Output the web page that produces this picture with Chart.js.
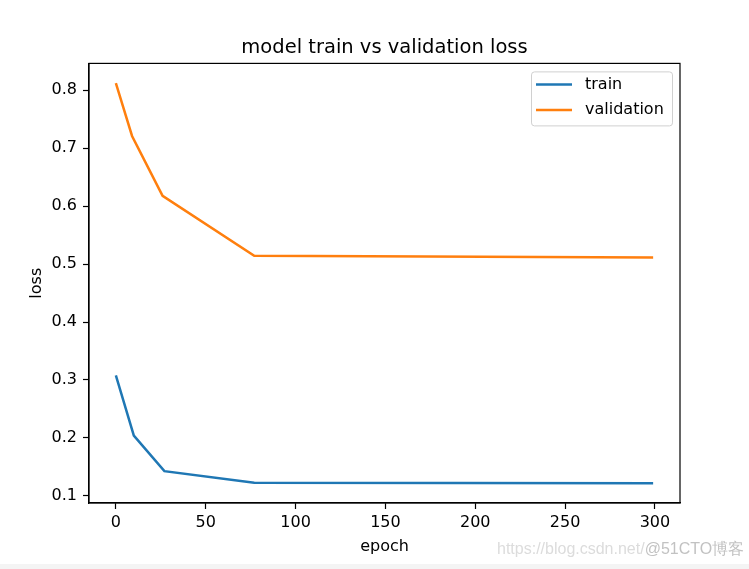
<!DOCTYPE html>
<html>
<head>
<meta charset="utf-8">
<script src="https://cdn.jsdelivr.net/npm/chart.js@4.4.0/dist/chart.umd.min.js"></script>
<style>
    html, body { margin: 0; padding: 0; background: #fff; }
    #wrap { position: relative; width: 749px; height: 569px; }
    #watermark {
        position: absolute; left: 497px; top: 539px;
        font: 16px "Liberation Sans", Arial, sans-serif; color: #dcdcdc; white-space: nowrap;
    }
    #watermark span { color: #c2c2c2; }
    #strip { position: absolute; left: 0; top: 564px; width: 749px; height: 5px; background: #f4f4f4; }
</style>
</head>
<body>
<div id="wrap">
    <canvas id="chart" width="749" height="569"></canvas>
    <div id="watermark">https://blog.csdn.net/<span>@51CTO博客</span></div>
    <div id="strip"></div>
</div>
<script>
// values
const trainEpochs = [0, 10, 27, 77, 299];
const trainLoss = [0.308, 0.204, 0.1425, 0.1225, 0.1218];
const valEpochs = [0, 9, 26, 77, 299];
const valLoss = [0.8125, 0.7212, 0.6178, 0.5143, 0.5115];
const xTicks = [0, 50, 100, 150, 200, 250, 300];
const yTicks = [0.1, 0.2, 0.3, 0.4, 0.5, 0.6, 0.7, 0.8];

const FONT = 'DejaVu Sans';

const toPoints = (xs, ys) => xs.map((x, i) => ({ x: x, y: ys[i] }));

// black frame round the plot area, like matplotlib spines
const framePlugin = {
    id: 'frame',
    afterDatasetsDraw(chart) {
        const { ctx, chartArea: a } = chart;
        ctx.save();
        ctx.strokeStyle = '#000';
        ctx.lineWidth = 1.2;
        ctx.strokeRect(a.left, a.top, a.right - a.left, a.bottom - a.top);
        ctx.restore();
    }
};

// legend box in the upper right corner
const legendBoxPlugin = {
    id: 'legendBox',
    afterDraw(chart) {
        const { ctx, chartArea: a } = chart;
        const sets = chart.data.datasets;
        const boxR = a.right - 8, boxT = a.top + 8;
        const boxW = 141, boxH = 54;
        const boxL = boxR - boxW;
        ctx.save();
        ctx.fillStyle = 'rgba(255,255,255,0.8)';
        ctx.strokeStyle = '#d0d0d0';
        ctx.lineWidth = 1;
        ctx.beginPath();
        ctx.roundRect(boxL + 0.5, boxT + 0.5, boxW, boxH, 3);
        ctx.fill();
        ctx.stroke();
        ctx.font = '16px "' + FONT + '"';
        ctx.textBaseline = 'middle';
        ctx.fillStyle = '#000';
        sets.forEach((ds, i) => {
            const y = boxT + 13 + i * 25.5;
            ctx.strokeStyle = ds.borderColor;
            ctx.lineWidth = 2.5;
            ctx.beginPath();
            ctx.moveTo(boxL + 5, y);
            ctx.lineTo(boxL + 41, y);
            ctx.stroke();
            ctx.fillText(ds.label, boxL + 54, y);
        });
        ctx.restore();
    }
};

new Chart(document.getElementById('chart'), {
    type: 'line',
    data: {
        datasets: [
            {
                label: 'train',
                data: toPoints(trainEpochs, trainLoss),
                borderColor: '#1f77b4',
                borderWidth: 2.5,
                pointRadius: 0,
                tension: 0,
                fill: false
            },
            {
                label: 'validation',
                data: toPoints(valEpochs, valLoss),
                borderColor: '#ff7f0e',
                borderWidth: 2.5,
                pointRadius: 0,
                tension: 0,
                fill: false
            }
        ]
    },
    options: {
        responsive: false,
        animation: false,
        layout: { padding: { left: 0, right: 69, top: 0, bottom: 0 } },
        plugins: {
            legend: { display: false },
            tooltip: { enabled: false },
            title: {
                display: true,
                fullSize: false,
                text: 'model train vs validation loss',
                color: '#000',
                font: { family: FONT, size: 19.5, weight: 'normal' },
                padding: { top: 36, bottom: 4 }
            }
        },
        scales: {
            x: {
                type: 'linear',
                min: -14.95,
                max: 313.95,
                afterBuildTicks: (scale) => { scale.ticks = xTicks.map(v => ({ value: v })); },
                afterFit: (scale) => { scale.height = 66; },
                grid: { drawOnChartArea: false, drawTicks: true, tickLength: 6, tickColor: '#000', tickWidth: 1.2 },
                border: { display: true, color: '#000', width: 1.2 },
                ticks: { color: '#000', padding: 4, maxRotation: 0, font: { family: FONT, size: 16 } },
                title: { display: true, text: 'epoch', color: '#000', font: { family: FONT, size: 16 }, padding: { top: 2, bottom: 13 } }
            },
            y: {
                type: 'linear',
                min: 0.0875,
                max: 0.8465,
                afterBuildTicks: (scale) => { scale.ticks = yTicks.map(v => ({ value: v })); },
                afterFit: (scale) => { scale.width = 89; },
                grid: { drawOnChartArea: false, drawTicks: true, tickLength: 6, tickColor: '#000', tickWidth: 1.2 },
                border: { display: true, color: '#000', width: 1.2 },
                ticks: { color: '#000', padding: 6, font: { family: FONT, size: 16 }, callback: (v) => v.toFixed(1) },
                title: { display: true, text: 'loss', color: '#000', font: { family: FONT, size: 16 }, padding: { top: 27, bottom: 0 } }
            }
        }
    },
    plugins: [framePlugin, legendBoxPlugin]
});
</script>
</body>
</html>
